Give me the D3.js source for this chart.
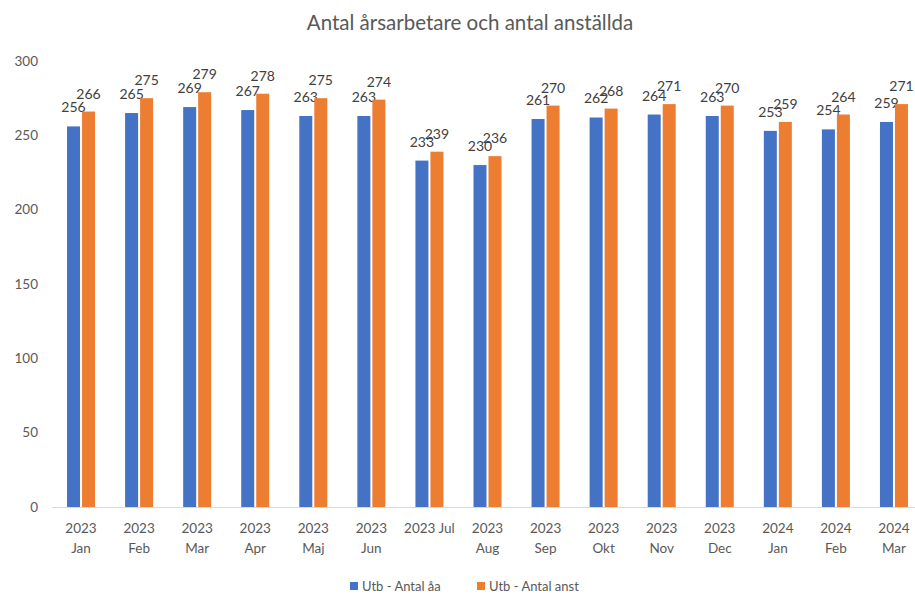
<!DOCTYPE html>
<html lang="sv">
<head>
<meta charset="UTF-8">
<title>Antal årsarbetare och antal anställda</title>
<script src="https://d3js.org/d3.v7.min.js"></script>
<style>
  body { margin: 0; background: #fff; font-family: Lato, "Open Sans", sans-serif; }
  .tick text { fill: #595959; }
</style>
</head>
<body>
<div id="chart"></div>
<script>
// data
const months = ["2023 Jan", "2023 Feb", "2023 Mar", "2023 Apr", "2023 Maj", "2023 Jun", "2023 Jul",
  "2023 Aug", "2023 Sep", "2023 Okt", "2023 Nov", "2023 Dec", "2024 Jan", "2024 Feb", "2024 Mar"];
const antalAa = [256, 265, 269, 267, 263, 263, 233, 230, 261, 262, 264, 263, 253, 254, 259];
const antalAnst = [266, 275, 279, 278, 275, 274, 239, 236, 270, 268, 271, 270, 259, 264, 271];
const seriesNames = ["Utb - Antal åa", "Utb - Antal anst"];
const yTicks = [0, 50, 100, 150, 200, 250, 300];

const W = 915, H = 597;
const colors = ["#4472C4", "#ED7D31"];
const textColor = "#595959";

const svg = d3.select("#chart").append("svg")
  .attr("width", W).attr("height", H);

svg.append("text")
  .attr("x", 470).attr("y", 30)
  .attr("text-anchor", "middle")
  .attr("fill", textColor)
  .attr("font-size", 20.5)
  .text("Antal årsarbetare och antal anställda");

const x = d3.scaleBand().domain(months).range([52, 923]).paddingInner(0).paddingOuter(0);
const y = d3.scaleLinear().domain([0, 300]).range([507, 61]);
const barW = 13, gap = 2;

// y axis labels only
const gy = svg.append("g")
  .attr("transform", "translate(38,0)")
  .call(d3.axisLeft(y).tickValues(yTicks).tickSize(0).tickPadding(0));
gy.select(".domain").remove();
gy.selectAll("text").attr("font-size", 13.5).attr("font-family", "Lato, sans-serif");

// baseline
svg.append("line")
  .attr("x1", 52).attr("x2", 923)
  .attr("y1", y(0) + 0.5).attr("y2", y(0) + 0.5)
  .attr("stroke", "#D9D9D9").attr("stroke-width", 1);

const series = [antalAa, antalAnst];
series.forEach((vals, si) => {
  const offset = si === 0 ? -barW - gap / 2 : gap / 2;
  const g = svg.append("g");
  g.selectAll("rect").data(vals).join("rect")
    .attr("x", (d, i) => x(months[i]) + x.bandwidth() / 2 + offset)
    .attr("y", d => y(d))
    .attr("width", barW)
    .attr("height", d => y(0) - y(d))
    .attr("fill", colors[si]);
  g.selectAll("text").data(vals).join("text")
    .attr("x", (d, i) => x(months[i]) + x.bandwidth() / 2 + offset + barW / 2)
    .attr("y", d => y(d) - (si === 0 ? 14 : 13))
    .attr("text-anchor", "middle")
    .attr("fill", "#404040")
    .attr("font-size", 14)
    .text(d => d);
});

// x axis labels (wrapped like Excel)
const gx = svg.append("g");
months.forEach(m => {
  const cx = x(m) + x.bandwidth() / 2;
  const t = gx.append("text")
    .attr("text-anchor", "middle")
    .attr("fill", textColor)
    .attr("font-size", 13.5);
  if (m === "2023 Jul") {
    t.append("tspan").attr("x", cx).attr("y", 533).text(m);
  } else {
    const parts = m.split(" ");
    t.append("tspan").attr("x", cx).attr("y", 533).text(parts[0]);
    t.append("tspan").attr("x", cx).attr("y", 553).text(parts[1]);
  }
});

// legend
const legendX = [350, 477];
seriesNames.forEach((name, i) => {
  const lg = svg.append("g").attr("transform", `translate(${legendX[i]},582)`);
  lg.append("rect").attr("width", 8).attr("height", 8).attr("fill", colors[i]);
  lg.append("text").attr("x", 12).attr("y", 8.5)
    .attr("fill", textColor).attr("font-size", 13)
    .text(name);
});
</script>
</body>
</html>
